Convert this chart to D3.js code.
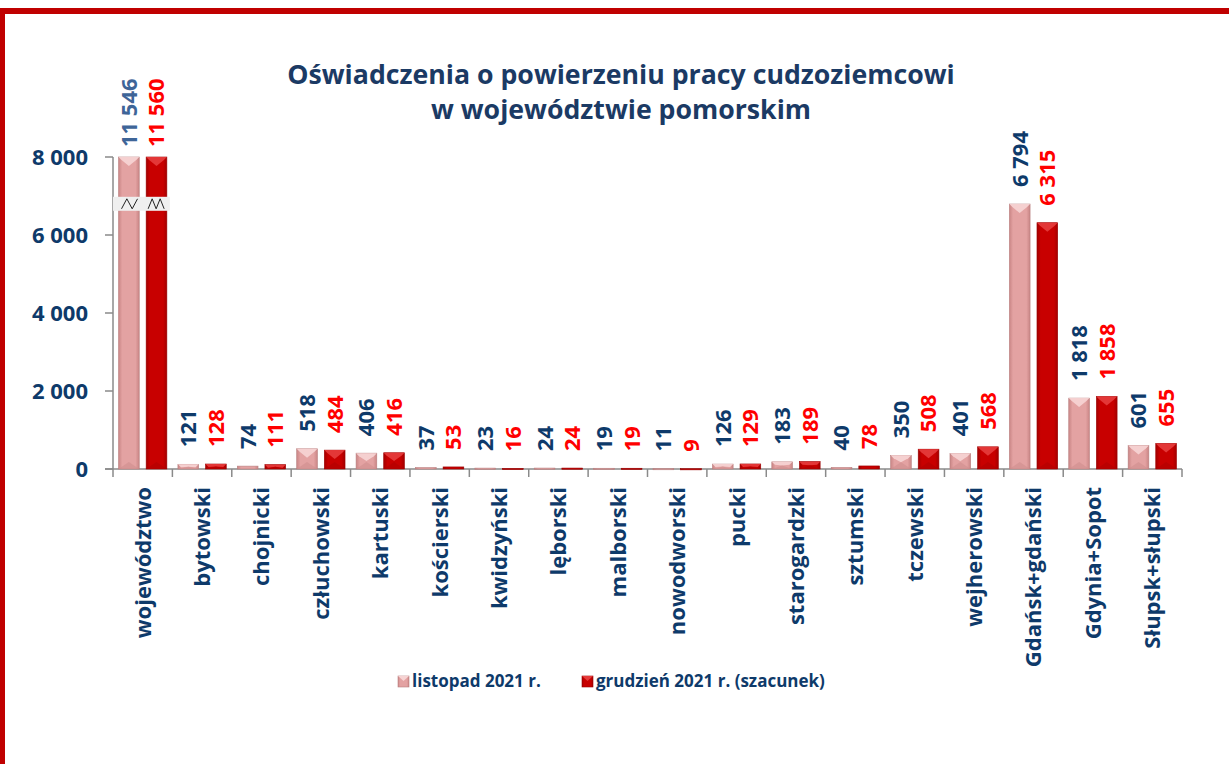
<!DOCTYPE html>
<html><head><meta charset="utf-8">
<script src="https://cdn.jsdelivr.net/npm/d3@7"></script>
<style>
html,body{margin:0;padding:0;background:#fff;}
svg{display:block;}
text{font-family:"Open Sans",sans-serif;font-weight:700;}
</style></head>
<body>
<svg id="chart" width="1229" height="764"></svg>
<script>
const categories = ["województwo","bytowski","chojnicki","człuchowski","kartuski","kościerski","kwidzyński","lęborski","malborski","nowodworski","pucki","starogardzki","sztumski","tczewski","wejherowski","Gdańsk+gdański","Gdynia+Sopot","Słupsk+słupski"];
const listopad = [11546,121,74,518,406,37,23,24,19,11,126,183,40,350,401,6794,1818,601];
const grudzien = [11560,128,111,484,416,53,16,24,19,9,129,189,78,508,568,6315,1858,655];
const seriesNames = ["listopad 2021 r.","grudzień 2021 r. (szacunek)"];
const yTicks = [0,2000,4000,6000,8000];
const titleLines = ["Oświadczenia o powierzeniu pracy cudzoziemcowi","w województwie pomorskim"];

const navy = "#0E3A6A", red = "#FF0000", axisGray = "#8A8A8A";
const svg = d3.select("#chart");
const defs = svg.append("defs");

// frame
svg.append("rect").attr("x",0).attr("y",8).attr("width",1229).attr("height",6).attr("fill","#C00000");
svg.append("rect").attr("x",0).attr("y",8).attr("width",5).attr("height",756).attr("fill","#C00000");

const loc = d3.formatLocale({decimal:",",thousands:" ",grouping:[3],currency:["",""]});
const fmt = loc.format(",d");

const x0 = d3.scaleBand().domain(categories).range([113,1182]).paddingInner(0).paddingOuter(0);
const x1 = d3.scaleBand().domain(["a","b"]).range([0,x0.bandwidth()]).paddingInner(0.25).paddingOuter(0.2);
const y = d3.scaleLinear().domain([0,8000]).range([469,157]);

// gradients
function grad(id, edge, mid){
  const g = defs.append("linearGradient").attr("id",id).attr("x1","0").attr("x2","1").attr("y1","0").attr("y2","0");
  g.append("stop").attr("offset","0").attr("stop-color",edge);
  g.append("stop").attr("offset","0.18").attr("stop-color",mid);
  g.append("stop").attr("offset","0.82").attr("stop-color",mid);
  g.append("stop").attr("offset","1").attr("stop-color",edge);
}
grad("gA","#C98585","#E3A2A2");
grad("gB","#A30000","#C80000");
const styles = {
  a:{fill:"url(#gA)", top:"#F6D3D3", bottom:"#CF8E8E", stroke:"#B98080"},
  b:{fill:"url(#gB)", top:"#E53A3A", bottom:"#B00000", stroke:"#9A0000"}
};

// axes lines
svg.append("line").attr("x1",113).attr("x2",113).attr("y1",157).attr("y2",469).attr("stroke",axisGray).attr("stroke-width",1.5);
svg.append("line").attr("x1",105).attr("x2",1182).attr("y1",469).attr("y2",469).attr("stroke",axisGray).attr("stroke-width",1.5);
yTicks.forEach(t=>{
  svg.append("line").attr("x1",105).attr("x2",113).attr("y1",y(t)).attr("y2",y(t)).attr("stroke",axisGray).attr("stroke-width",1.5);
  svg.append("text").attr("x",88).attr("y",y(t)).attr("dy","0.36em").attr("text-anchor","end")
    .attr("font-size",22).attr("fill",navy).text(fmt(t));
});
const bounds = categories.map(c=>x0(c)).concat([1182]);
bounds.forEach(bx=>{
  svg.append("line").attr("x1",bx).attr("x2",bx).attr("y1",469).attr("y2",477).attr("stroke",axisGray).attr("stroke-width",1.5);
});

// bars
const data = categories.map((c,i)=>({c, a:listopad[i], b:grudzien[i], i}));
function drawBar(g, bx, w, v, key){
  const top = y(Math.min(v,8000)), bot = y(0);
  const h = bot - top;
  const st = styles[key];
  g.append("rect").attr("x",bx).attr("y",top).attr("width",w).attr("height",Math.max(h,1.2))
    .attr("fill",st.fill).attr("stroke",st.stroke).attr("stroke-width",0.6);
  if(h>4){
    const b = Math.min(9, h/2);
    g.append("path").attr("d",`M${bx},${top}L${bx+w},${top}L${bx+w-3},${top+3}L${bx+w/2},${top+b}L${bx+3},${top+3}Z`).attr("fill",st.top).attr("opacity",0.95);
    g.append("path").attr("d",`M${bx},${bot}L${bx+w},${bot}L${bx+w/2},${bot-Math.min(7,h/2)}Z`).attr("fill",st.bottom).attr("opacity",0.6);
  }
}
const gBars = svg.append("g");
data.forEach(d=>{
  const bx = x0(d.c);
  drawBar(gBars, bx + x1("a"), x1.bandwidth(), d.a, "a");
  drawBar(gBars, bx + x1("b"), x1.bandwidth(), d.b, "b");
});

// break marks on first category
const brkY = y(6800);
const c0 = categories[0];
svg.append("rect").attr("x",x0(c0)).attr("y",brkY-7).attr("width",x1("b")+x1.bandwidth()+3).attr("height",14).attr("fill","#EFEFEF");
function zig(xs, n){
  const pts=[]; const w=16/ n;
  for(let k=0;k<=n;k++) pts.push([xs + k*w, k%2===0 ? brkY+5 : brkY-5]);
  return d3.line()(pts);
}
svg.append("path").attr("d",zig(x0(c0)+x1("a")+3,3)).attr("fill","none").attr("stroke","#222").attr("stroke-width",1);
svg.append("path").attr("d",zig(x0(c0)+x1("b")+2,4)).attr("fill","none").attr("stroke","#222").attr("stroke-width",1);

// value labels
data.forEach(d=>{
  [["a",d.a,d.i===0?"#3E6598":navy],["b",d.b,red]].forEach(([k,v,col])=>{
    const cx = x0(d.c)+x1(k)+x1.bandwidth()/2;
    const top = y(Math.min(v,8000));
    const ly = d.i===0 ? top-10 : top-17;
    svg.append("text").attr("transform",`translate(${cx},${ly}) rotate(-90)`)
      .attr("dy","0.36em").attr("text-anchor","start").attr("font-size",22).attr("fill",col).text(fmt(v));
  });
});

// category labels
categories.forEach(c=>{
  const cx = x0(c)+x0.bandwidth()/2;
  svg.append("text").attr("transform",`translate(${cx},487) rotate(-90)`)
    .attr("dy","0.36em").attr("text-anchor","end").attr("font-size",22).attr("fill",navy).text(c);
});

// title
svg.append("text").attr("x",621).attr("y",84).attr("text-anchor","middle").attr("font-size",26.7).attr("fill","#1B3A64").text(titleLines[0]);
svg.append("text").attr("x",621).attr("y",119).attr("text-anchor","middle").attr("font-size",26.7).attr("fill","#1B3A64").text(titleLines[1]);

// legend
const legX = [398,582];
seriesNames.forEach((n,i)=>{
  const k = i===0?"a":"b";
  const st = styles[k];
  svg.append("rect").attr("x",legX[i]).attr("y",676).attr("width",11).attr("height",11).attr("fill",st.fill).attr("stroke",st.stroke).attr("stroke-width",0.6);
  svg.append("path").attr("d",`M${legX[i]},676L${legX[i]+11},676L${legX[i]+5.5},681Z`).attr("fill",st.top);
  svg.append("text").attr("x",legX[i]+14).attr("y",687).attr("font-size",17).attr("fill",navy).text(n);
});
</script>
</body></html>
